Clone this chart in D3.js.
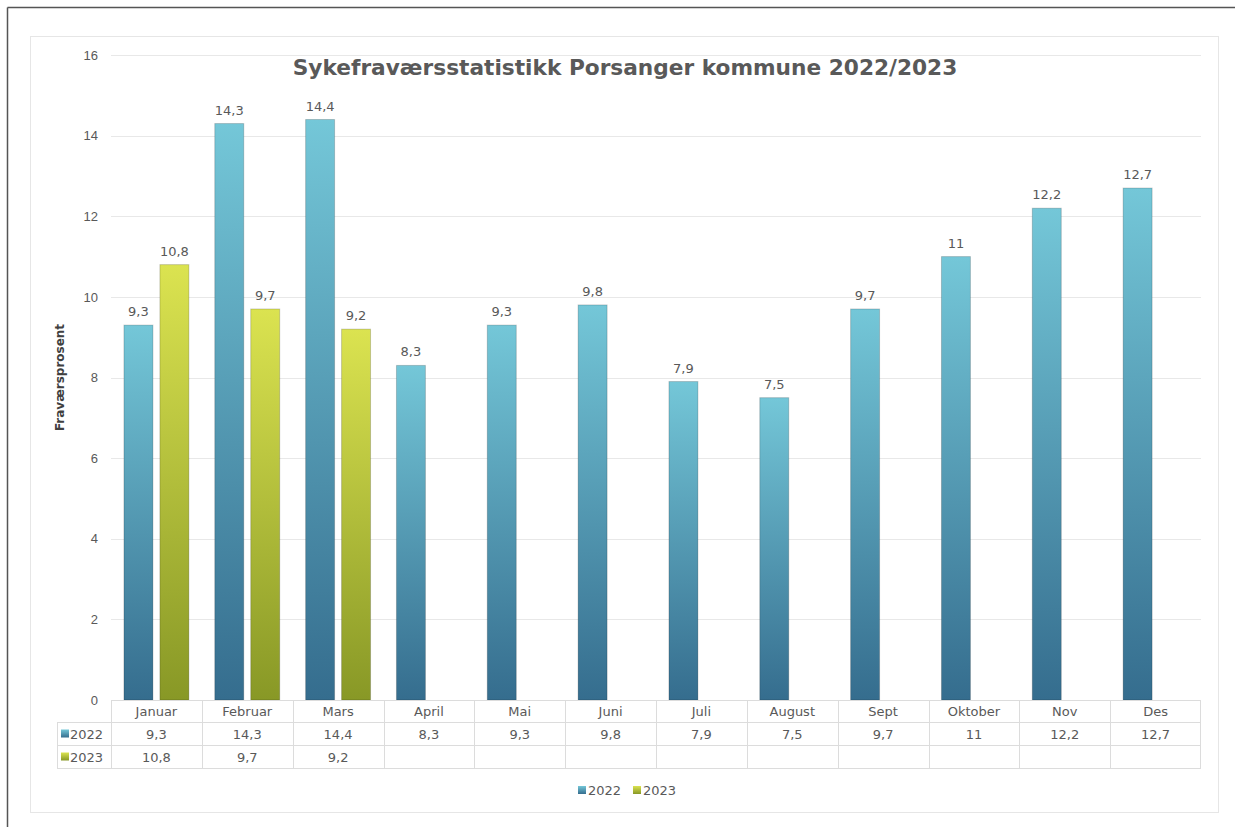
<!DOCTYPE html>
<html>
<head>
<meta charset="utf-8">
<script src="https://cdn.jsdelivr.net/npm/d3@7"></script>
<style>
  body { margin: 0; background: #fff; }
  svg { display: block; font-family: "DejaVu Sans", sans-serif; }
  .tick text { fill: #595959; font-size: 13px; }
  .lbl { fill: #595959; font-size: 13px; }
</style>
</head>
<body>
<div id="chart"></div>
<script>
// data
var months = ["Januar", "Februar", "Mars", "April", "Mai", "Juni", "Juli", "August", "Sept", "Oktober", "Nov", "Des"];
var series = ["2022", "2023"];
var values2022 = [9.3, 14.3, 14.4, 8.3, 9.3, 9.8, 7.9, 7.5, 9.7, 11, 12.2, 12.7];
var values2023 = [10.8, 9.7, 9.2, null, null, null, null, null, null, null, null, null];
var yTicks = [0, 2, 4, 6, 8, 10, 12, 14, 16];

var W = 1235, H = 827;
var svg = d3.select('#chart').append('svg').attr('width', W).attr('height', H);

function fmt(v) { return v == null ? '' : String(v).replace('.', ','); }

// gradients
var defs = svg.append('defs');
var grads = { "2022": ["#74c7d8", "#356d8e"], "2023": ["#dbe350", "#889826"] };
series.forEach(function(s) {
  var g = defs.append('linearGradient').attr('id', 'g' + s)
    .attr('x1', 0).attr('y1', 0).attr('x2', 0).attr('y2', 1);
  g.append('stop').attr('offset', '0%').attr('stop-color', grads[s][0]);
  g.append('stop').attr('offset', '100%').attr('stop-color', grads[s][1]);
});

// frames
svg.append('line').attr('x1', 7.5).attr('y1', 7.5).attr('x2', W).attr('y2', 7.5).attr('stroke', '#555').attr('stroke-width', 1.5);
svg.append('line').attr('x1', 7.5).attr('y1', 7.5).attr('x2', 7.5).attr('y2', H).attr('stroke', '#555').attr('stroke-width', 1.5);
svg.append('rect').attr('x', 30.5).attr('y', 36.5).attr('width', 1188).attr('height', 776)
  .attr('fill', 'none').attr('stroke', '#e6e6e6');

var x = d3.scaleBand().domain(months).range([111, 1201]);
var xs = d3.scaleBand().domain(series).range([0, x.bandwidth()]).paddingInner(0.194).paddingOuter(0.36);
var y = d3.scaleLinear().domain([0, 16]).range([700, 55]);

// grid + y axis
var yAxis = svg.append('g').attr('transform', 'translate(111,0)')
  .call(d3.axisLeft(y).tickValues(yTicks).tickSize(0).tickPadding(13).tickFormat(d3.format('d')));
yAxis.select('.domain').remove();
svg.append('g').selectAll('line').data(yTicks.slice(1)).enter().append('line')
  .attr('x1', 111).attr('x2', 1201)
  .attr('y1', function(d) { return Math.round(y(d)) + 0.5; })
  .attr('y2', function(d) { return Math.round(y(d)) + 0.5; })
  .attr('stroke', '#e8e8e8');

svg.append('text').attr('transform', 'translate(64,' + y(8) + ') rotate(-90)')
  .attr('text-anchor', 'middle').attr('font-size', 12).attr('font-weight', 'bold')
  .attr('fill', '#404040').text('Fraværsprosent');

// title
var title = svg.append('text').attr('x', 625).attr('y', 75).attr('text-anchor', 'middle')
  .attr('font-size', 24).attr('font-weight', 'bold').attr('fill', '#595959')
  .text('Sykefraværsstatistikk Porsanger kommune 2022/2023');
var tw = title.node().getComputedTextLength();
title.attr('font-size', 24 * 665 / tw);

// bars
var rows = [values2022, values2023];
series.forEach(function(s, si) {
  var data = months.map(function(m, i) { return { m: m, v: rows[si][i] }; })
    .filter(function(d) { return d.v != null; });
  var g = svg.append('g');
  g.selectAll('rect').data(data).enter().append('rect')
    .attr('x', function(d) { return x(d.m) + xs(s); })
    .attr('y', function(d) { return y(d.v); })
    .attr('width', xs.bandwidth())
    .attr('height', function(d) { return y(0) - y(d.v); })
    .attr('fill', 'url(#g' + s + ')')
    .attr('stroke', 'rgba(0,0,0,0.18)').attr('stroke-width', 1);
  g.selectAll('text').data(data).enter().append('text').attr('class', 'lbl')
    .attr('x', function(d) { return x(d.m) + xs(s) + xs.bandwidth() / 2; })
    .attr('y', function(d) { return y(d.v) - 9; })
    .attr('text-anchor', 'middle').attr('font-size', 12.5)
    .text(function(d) { return fmt(d.v); });
});

// data table
var tbl = svg.append('g');
var rowY = [700, 722, 745, 768];
var tc = '#dcdcdc';
tbl.append('line').attr('x1', 111).attr('x2', 1201).attr('y1', 700.5).attr('y2', 700.5).attr('stroke', tc);
[1, 2, 3].forEach(function(r) {
  tbl.append('line').attr('x1', r === 1 ? 57 : 57).attr('x2', 1201)
    .attr('y1', rowY[r] + 0.5).attr('y2', rowY[r] + 0.5).attr('stroke', tc);
});
months.forEach(function(m) {
  tbl.append('line').attr('x1', Math.round(x(m)) + 0.5).attr('x2', Math.round(x(m)) + 0.5)
    .attr('y1', 700).attr('y2', 768).attr('stroke', tc);
});
tbl.append('line').attr('x1', 1200.5).attr('x2', 1200.5).attr('y1', 700).attr('y2', 768).attr('stroke', tc);
tbl.append('line').attr('x1', 57.5).attr('x2', 57.5).attr('y1', 722).attr('y2', 768).attr('stroke', tc);

tbl.selectAll('text.m').data(months).enter().append('text').attr('class', 'lbl')
  .attr('x', function(d) { return x(d) + x.bandwidth() / 2; })
  .attr('y', 716).attr('text-anchor', 'middle').text(function(d) { return d; });
series.forEach(function(s, si) {
  var cy = (rowY[si + 1] + rowY[si + 2]) / 2;
  tbl.selectAll('text.v' + s).data(months).enter().append('text').attr('class', 'lbl')
    .attr('x', function(d) { return x(d) + x.bandwidth() / 2; })
    .attr('y', cy + 5).attr('text-anchor', 'middle')
    .text(function(d, i) { return fmt(rows[si][i]); });
  tbl.append('rect').attr('x', 61).attr('y', cy - 4).attr('width', 8).attr('height', 8)
    .attr('fill', 'url(#g' + s + ')');
  tbl.append('text').attr('class', 'lbl').attr('x', 70).attr('y', cy + 5).text(s);
});

// legend
var leg = svg.append('g').attr('transform', 'translate(578,790)');
series.forEach(function(s, i) {
  var lg = leg.append('g').attr('transform', 'translate(' + (i * 55) + ',0)');
  lg.append('rect').attr('x', 0).attr('y', -4).attr('width', 8).attr('height', 8).attr('fill', 'url(#g' + s + ')');
  lg.append('text').attr('class', 'lbl').attr('x', 10).attr('y', 5).text(s);
});
</script>
</body>
</html>
